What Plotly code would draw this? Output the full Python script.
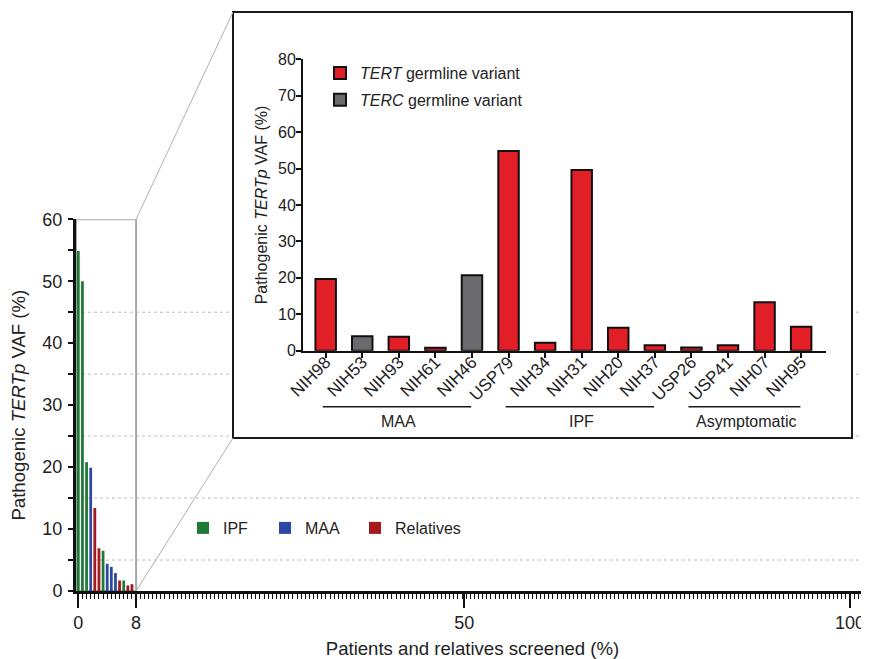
import plotly.graph_objects as go

# ---------------- data ----------------
# main panel: screened individuals with a detectable pathogenic TERTp VAF (ranked)
main_vaf = [54.9, 50.0, 20.8, 19.9, 13.4, 6.9, 6.5, 4.4, 3.9, 2.9, 1.7, 1.7, 0.9, 1.1]
main_group = ["IPF", "IPF", "IPF", "MAA", "Relatives", "Relatives", "IPF",
              "MAA", "MAA", "MAA", "Relatives", "IPF", "Relatives", "Relatives"]
n_screened = 187                       # total patients and relatives screened
main_series = ["IPF", "MAA", "Relatives"]
main_colors = {"IPF": "#1f7a35", "MAA": "#2b48a4", "Relatives": "#a3191c"}
main_y_ticks = [0, 10, 20, 30, 40, 50, 60]
main_grid_vals = [5, 15, 25, 35, 45]
main_x_ticktext = ["0", "8", "50", "100"]

# inset: individual carriers
inset_samples = ["NIH98", "NIH53", "NIH93", "NIH61", "NIH46", "USP79", "NIH34",
                 "NIH31", "NIH20", "NIH37", "USP26", "USP41", "NIH07", "NIH95"]
inset_vaf = [19.7, 4.0, 3.8, 0.8, 20.7, 54.8, 2.2, 49.6, 6.3, 1.5, 0.9, 1.5, 13.3, 6.6]
inset_variant = ["TERT", "TERC", "TERT", "TERT", "TERC", "TERT", "TERT",
                 "TERT", "TERT", "TERT", "TERT", "TERT", "TERT", "TERT"]
inset_series = ["TERT", "TERC"]
inset_names = {"TERT": "<i>TERT</i> germline variant", "TERC": "<i>TERC</i> germline variant"}
inset_colors = {"TERT": "#e21f26", "TERC": "#6b6b6d"}
inset_groups = [("MAA", 0, 4), ("IPF", 5, 9), ("Asymptomatic", 10, 13)]
inset_y_ticks = [0, 10, 20, 30, 40, 50, 60, 70, 80]

FONT = "Liberation Sans, Arial, sans-serif"

# ---------------- geometry ----------------
# the page body has an 8px margin, so the figure is drawn 8px smaller and
# all target positions below are given in page pixels.
OFF = 8
W, H = 869 - OFF, 659 - OFF
ML, MR, MT, MB = 76 - OFF, 0, 10 - OFF, 68
PW, PH = W - ML - MR, H - MT - MB
step = 100.0 / n_screened
x_range = [-0.30, 102.46]
main_dom_top = 0.6398
zoom_edge = 14 * step            # 14 individuals = ~8 %


def px_x(px):
    return (px - OFF - ML) / PW


def px_y(py):
    return (H - MB - (py - OFF)) / PH


def data_to_paper_x(v):
    return (v - x_range[0]) / (x_range[1] - x_range[0])


fig = go.Figure()

# main bars, one legend per entry so entries can be spaced like the original
main_legends = {"IPF": ("legend", 183), "MAA": ("legend3", 265), "Relatives": ("legend4", 355)}
for g in main_series:
    xs = [i * step for i, gg in enumerate(main_group) if gg == g]
    ys = [v for v, gg in zip(main_vaf, main_group) if gg == g]
    fig.add_trace(go.Bar(x=xs, y=ys, name=g, marker=dict(color=main_colors[g], line=dict(width=0)),
                         width=0.36, xaxis="x", yaxis="y", legend=main_legends[g][0],
                         showlegend=True))

# inset bars
for s in inset_series:
    xs = [n for n, t in zip(inset_samples, inset_variant) if t == s]
    ys = [v for v, t in zip(inset_vaf, inset_variant) if t == s]
    fig.add_trace(go.Bar(x=xs, y=ys, name=inset_names[s], legendgroup=s,
                         marker=dict(color=inset_colors[s], line=dict(color="#111111", width=2)),
                         width=0.56, xaxis="x2", yaxis="y2", legend="legend2", showlegend=True))

shapes = []
# dotted guide lines of main panel
for gv in main_grid_vals:
    shapes.append(dict(type="line", xref="paper", yref="y", x0=0, x1=1, y0=gv, y1=gv,
                       line=dict(color="#bcbcbc", width=1, dash="dot"), layer="below"))
# inset frame
ix0, ix1, iy0, iy1 = px_x(233), px_x(852), px_y(438), px_y(12)
shapes.append(dict(type="rect", xref="paper", yref="paper", x0=ix0, x1=ix1, y0=iy0, y1=iy1,
                   line=dict(color="#1a1a1a", width=2), fillcolor="white", layer="below"))
# zoom box
shapes.append(dict(type="rect", xref="x", yref="y", x0=x_range[0], x1=zoom_edge, y0=0, y1=60,
                   line=dict(color="#a8a8a8", width=2), layer="below"))
# connectors
zx = data_to_paper_x(zoom_edge)
shapes.append(dict(type="line", xref="paper", yref="paper", x0=zx, y0=main_dom_top, x1=ix0, y1=iy1,
                   line=dict(color="#b0b0b0", width=1), layer="below"))
shapes.append(dict(type="line", xref="paper", yref="paper", x0=zx, y0=0, x1=ix0, y1=iy0,
                   line=dict(color="#b0b0b0", width=1), layer="below"))
# inset group brackets
annotations = []
for name, a, b in inset_groups:
    shapes.append(dict(type="line", xref="x2", yref="paper", x0=a - 0.08, x1=b - 0.02,
                       y0=px_y(406.7), y1=px_y(406.7), line=dict(color="#1a1a1a", width=1.5)))
    annotations.append(dict(text=name, xref="x2", yref="paper", x=(a + b) / 2, y=px_y(421),
                            showarrow=False, font=dict(size=16, color="#222222"),
                            xanchor="center", yanchor="middle"))

legend_common = dict(orientation="h", xanchor="left", yanchor="middle",
                     font=dict(size=16), bgcolor="rgba(0,0,0,0)")

fig.update_layout(
    width=W, height=H,
    margin=dict(l=ML, r=MR, t=MT, b=MB),
    paper_bgcolor="white", plot_bgcolor="rgba(0,0,0,0)",
    font=dict(family=FONT, color="#222222", size=18),
    barmode="overlay", showlegend=True,
    shapes=shapes, annotations=annotations,
    xaxis=dict(domain=[0, 1], range=x_range, anchor="y", automargin=False,
               tickmode="array", tickvals=[0, zoom_edge, 50, 100], ticktext=main_x_ticktext,
               ticks="outside", ticklen=14, tickwidth=2, tickcolor="#111111",
               minor=dict(tickmode="linear", tick0=0, dtick=step, ticks="outside",
                          ticklen=5, tickwidth=1, tickcolor="#111111"),
               showline=True, linecolor="#111111", linewidth=2.5,
               showgrid=False, zeroline=False, tickfont=dict(size=18),
               ticklabeloverflow="allow",
               title=dict(text="Patients and relatives screened (%)", font=dict(size=18.6), standoff=11)),
    yaxis=dict(domain=[0, main_dom_top], range=[0, 60], anchor="x", automargin=False,
               tickmode="array", tickvals=main_y_ticks,
               ticks="outside", ticklen=5, tickwidth=2, tickcolor="#111111",
               minor=dict(tickmode="linear", tick0=5, dtick=10, ticks="outside",
                          ticklen=5, tickwidth=2, tickcolor="#111111"),
               showline=True, linecolor="#111111", linewidth=3,
               showgrid=False, zeroline=False, tickfont=dict(size=18), ticklabelstandoff=2,
               title=dict(text="Pathogenic <i>TERTp</i> VAF (%)", font=dict(size=18.6), standoff=14)),
    xaxis2=dict(domain=[px_x(303), px_x(826)], anchor="y2", automargin=False,
                categoryorder="array", categoryarray=inset_samples, range=[-0.62, 13.68],
                tickangle=-45, ticks="outside", ticklen=5, tickwidth=1.5, tickcolor="#111111",
                showline=True, linecolor="#111111", linewidth=2, ticklabelstandoff=-12,
                showgrid=False, zeroline=False, tickfont=dict(size=17)),
    yaxis2=dict(domain=[px_y(350.7), px_y(59.3)], anchor="x2", range=[0, 80], automargin=False,
                tickmode="array", tickvals=inset_y_ticks,
                ticks="outside", ticklen=5, tickwidth=1.5, tickcolor="#111111",
                showline=True, linecolor="#111111", linewidth=2,
                showgrid=False, zeroline=False, tickfont=dict(size=16), ticklabelstandoff=-3,
                title=dict(text="Pathogenic <i>TERTp</i> VAF (%)", font=dict(size=16), standoff=6)),
    legend=dict(x=px_x(main_legends["IPF"][1]), y=px_y(528), **legend_common),
    legend3=dict(x=px_x(main_legends["MAA"][1]), y=px_y(528), **legend_common),
    legend4=dict(x=px_x(main_legends["Relatives"][1]), y=px_y(528), **legend_common),
    legend2=dict(orientation="v", x=px_x(320), y=px_y(86.5), xanchor="left", yanchor="middle",
                 font=dict(size=16), bgcolor="rgba(0,0,0,0)", tracegroupgap=3),
)

fig.write_html("out.html",
               post_script="document.documentElement.style.overflow='hidden';"
                           "document.body.style.overflow='hidden';")
